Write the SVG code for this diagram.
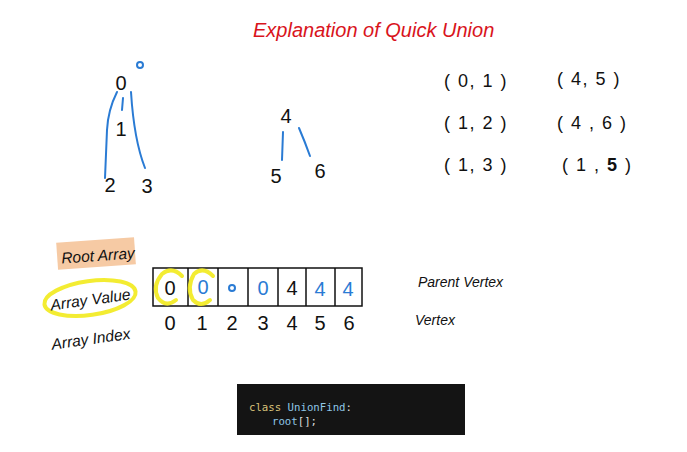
<svg xmlns="http://www.w3.org/2000/svg" width="687" height="452" viewBox="0 0 687 452">
<style>
.h{font-family:"Liberation Sans","DejaVu Sans",sans-serif;font-style:italic;fill:#111}
.n{font-family:"Liberation Sans","DejaVu Sans",sans-serif;font-size:20px;fill:#111;text-anchor:middle}
.b{fill:#2a7bd4}
.bl{stroke:#2a7bd4;stroke-width:2;fill:none;stroke-linecap:round}
.cell{fill:none;stroke:#111;stroke-width:1.5}
.yl{stroke:#f2ea1c;stroke-width:4;fill:none;stroke-linecap:round;opacity:0.9}
.code{font-family:"DejaVu Sans Mono","Liberation Mono",monospace;font-size:10.7px}
</style>
<rect width="687" height="452" fill="#fff"/>
<text x="253" y="37" class="h" font-size="20" style="fill:#d9141c">Explanation of Quick Union</text>

<g id="tree1">
<text x="121" y="90" class="n">0</text>
<circle cx="140" cy="65" r="3" class="bl" stroke-width="1.5"/>
<text x="121" y="136" class="n">1</text>
<text x="110" y="192" class="n" font-size="18">2</text>
<text x="147" y="193" class="n" font-size="18">3</text>
</g>
<g id="tree2">
<text x="286" y="123" class="n">4</text>
<text x="276" y="183" class="n">5</text>
<text x="320" y="178" class="n">6</text>
</g>
<g id="connectors">
<path d="M117 92 Q108 110 107 130 L105 178" class="bl"/>
<path d="M131 92 Q134 140 145 168" class="bl"/>
<path d="M123 98 L122 110" class="bl"/>
<path d="M283 132 L282 160" class="bl"/>
<path d="M299 128 Q305 142 310 156" class="bl"/>
</g>

<g id="pairs" font-family="Liberation Sans,sans-serif" font-size="18" fill="#111" letter-spacing="1.5">
<text x="444" y="87">( 0,  1 )</text>
<text x="444" y="129">( 1,  2 )</text>
<text x="444" y="171">( 1, 3 )</text>
<text x="557" y="85">( 4, 5 )</text>
<text x="557" y="129">( 4 , 6 )</text>
<text x="562" y="171">( 1 , <tspan font-weight="bold">5</tspan> )</text>
</g>

<g id="root-array-label">
<rect x="57" y="240" width="78" height="27" fill="#f6caa4" transform="rotate(-4 96 253)"/>
<text x="61" y="261" class="h" font-size="15.5" transform="rotate(-4 96 253)">Root Array</text>
</g>

<g id="array-value-label">
<ellipse cx="90" cy="298" rx="46" ry="17" class="yl" transform="rotate(-8 90 298)"/>
<text x="50" y="305" class="h" font-size="15.5" transform="rotate(-8 90 298)">Array Value</text>
</g>
<g id="array-index-label">
<text x="51" y="344" class="h" font-size="15.5" transform="rotate(-8 92 337)">Array Index</text>
</g>

<g id="array">
<rect x="153" y="268" width="209" height="38" class="cell"/>
<path d="M188 268V306M218 268V306M248 268V306M278 268V306M306 268V306M335 268V306" class="cell"/>
<text x="170" y="295" class="n">0</text>
<text x="203" y="294" class="n b" font-size="16">0</text>
<circle cx="232" cy="288" r="3" class="bl" stroke-width="1.5"/>
<text x="263" y="295" class="n b">0</text>
<text x="292" y="295" class="n">4</text>
<text x="320" y="296" class="n b">4</text>
<text x="348" y="296" class="n b">4</text>
<path d="M182 276 Q172 266 162 274 Q152 286 158 298 Q166 308 176 300" class="yl"/>
<path d="M213 276 Q203 266 194 274 Q186 288 193 300 Q201 308 210 300" class="yl"/>
</g>
<g id="indices">
<text x="170" y="330" class="n">0</text>
<text x="202" y="330" class="n">1</text>
<text x="232" y="330" class="n">2</text>
<text x="263" y="330" class="n">3</text>
<text x="292" y="330" class="n">4</text>
<text x="320" y="330" class="n">5</text>
<text x="349" y="330" class="n">6</text>
</g>

<g id="parent-vertex"><text x="418" y="287" class="h" font-size="14">Parent Vertex</text></g>
<g id="vertex"><text x="415" y="325" class="h" font-size="14">Vertex</text></g>

<g id="code">
<rect x="237" y="384" width="228" height="51" fill="#141414"/>
<text x="249" y="411" class="code"><tspan fill="#d8c27a">class</tspan><tspan fill="#8fc6e6"> UnionFind</tspan><tspan fill="#ddd">:</tspan></text>
<text x="272" y="425" class="code"><tspan fill="#8fc6e6">root</tspan><tspan fill="#ddd">[];</tspan></text>
</g>
</svg>
